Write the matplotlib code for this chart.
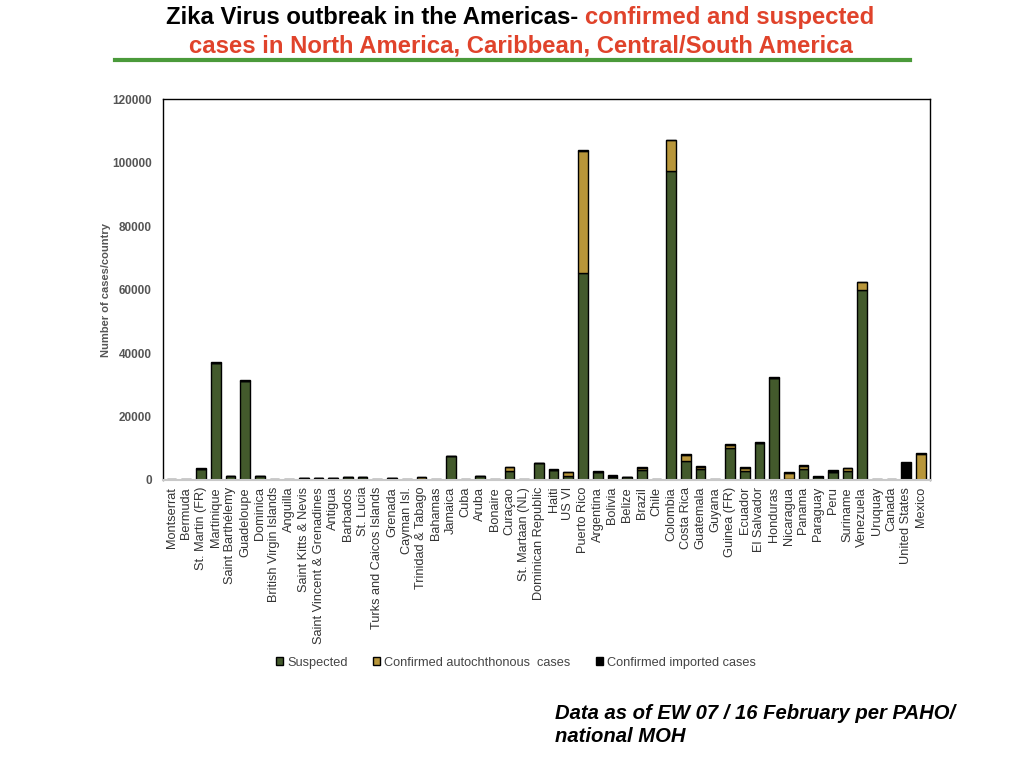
import numpy as np
import matplotlib.pyplot as plt

plt.rcParams['font.family'] = ['Liberation Sans', 'DejaVu Sans']

# ---------------------------
# Data
# ---------------------------
countries = [
    "Montserrat", "Bermuda", "St. Martin (FR)", "Martinique", "Saint Barthélemy",
    "Guadeloupe", "Dominica", "British Virgin Islands", "Anguilla",
    "Saint Kitts & Nevis", "Saint Vincent & Grenadines", "Antigua", "Barbados",
    "St. Lucia", "Turks and Caicos Islands", "Grenada", "Cayman Isl.",
    "Trinidad & Tabago", "Bahamas", "Jamaica", "Cuba", "Aruba", "Bonaire",
    "Curaçao", "St. Martaan (NL)", "Dominican Republic", "Haiti", "US VI",
    "Puerto Rico", "Argentina", "Bolivia", "Belize", "Brazil", "Chile",
    "Colombia", "Costa Rica", "Guatemala", "Guyana", "Guinea (FR)", "Ecuador",
    "El Salvador", "Honduras", "Nicaragua", "Panama", "Paraguay", "Peru",
    "Suriname", "Venezuela", "Uruquay", "Canada", "United States", "Mexico",
]

suspected = [
    100, 100, 3600, 37000, 1300,
    31300, 1300, 100, 100,
    600, 600, 600, 900,
    900, 100, 600, 100,
    300, 100, 7600, 100, 1300, 100,
    2700, 100, 5200, 3300, 1300,
    65200, 2600, 1100, 1000, 3300, 0,
    97300, 6000, 3400, 100, 10200, 2900,
    11700, 32200, 200, 3600, 1000, 2500,
    2800, 59800, 100, 100, 0, 0,
]

confirmed_auto = [
    0, 0, 0, 0, 0,
    0, 0, 0, 0,
    0, 0, 0, 0,
    0, 0, 0, 0,
    700, 0, 0, 0, 0, 0,
    1300, 0, 0, 0, 1100,
    38400, 0, 0, 0, 600, 0,
    9800, 1900, 800, 0, 800, 900,
    0, 0, 2100, 900, 0, 0,
    900, 2600, 0, 0, 0, 8200,
]

confirmed_imported = [
    100, 100, 100, 100, 100,
    100, 100, 100, 100,
    100, 100, 100, 100,
    100, 100, 100, 100,
    100, 100, 100, 100, 100, 100,
    100, 100, 100, 100, 100,
    300, 100, 400, 100, 100, 200,
    100, 200, 100, 100, 200, 200,
    200, 100, 200, 200, 200, 800,
    100, 100, 100, 100, 5700, 300,
]

series_names = ["Suspected", "Confirmed autochthonous  cases", "Confirmed imported cases"]
series_colors = ["#435a2c", "#b8963a", "#000000"]

yticks = [0, 20000, 40000, 60000, 80000, 100000, 120000]

# ---------------------------
# Figure
# ---------------------------
fig = plt.figure(figsize=(10.24, 7.68), dpi=100)
ax = fig.add_axes([0.159, 0.375, 0.749, 0.496])

x = np.arange(len(countries))
s = np.array(suspected)
c = np.array(confirmed_auto)
m = np.array(confirmed_imported)

bar_kw = dict(width=0.66, edgecolor="black", linewidth=1.0)
ax.bar(x, s, color=series_colors[0], label=series_names[0], **bar_kw)
ax.bar(x, c, bottom=s, color=series_colors[1], label=series_names[1], **bar_kw)
ax.bar(x, m, bottom=s + c, color=series_colors[2], label=series_names[2], **bar_kw)

ax.set_xlim(-0.6, len(countries) - 0.4)
ax.set_ylim(0, 120000)
ax.set_yticks(yticks)
ax.set_yticklabels([str(v) for v in yticks], fontsize=8.5, fontweight="bold", color="#555555")
ax.set_xticks(x)
ax.set_xticklabels(countries, rotation=90, fontsize=9.2, color="#333333")
ax.tick_params(axis="y", length=0, pad=8)
ax.tick_params(axis="x", length=0, pad=5)

for side in ["top", "right", "left"]:
    ax.spines[side].set_color("black")
    ax.spines[side].set_linewidth(1.0)
ax.spines["bottom"].set_color("#c8c8c8")
ax.spines["bottom"].set_linewidth(1.5)

ax.set_ylabel("Number of cases/country", fontsize=8, fontweight="bold", color="#555555", labelpad=1)

# legend
fig.legend(loc="center", bbox_to_anchor=(0.504, 0.137), ncol=3, frameon=False,
           fontsize=9.2, handlelength=0.55, handleheight=0.55, handletextpad=0.3,
           columnspacing=2.0, labelcolor="#444444")

# title (two colours on the first line)
fig.text(0.5645, 0.969, "Zika Virus outbreak in the Americas-", ha="right", va="baseline",
         fontsize=17.2, fontweight="bold", color="black")
fig.text(0.5713, 0.969, "confirmed and suspected", ha="left", va="baseline",
         fontsize=17.2, fontweight="bold", color="#e0432b")
fig.text(0.509, 0.932, "cases in North America, Caribbean, Central/South America", ha="center",
         va="baseline", fontsize=17.2, fontweight="bold", color="#e0432b")
fig.add_artist(plt.Line2D([0.112, 0.889], [0.9225, 0.9225], color="#4a9a3a", linewidth=3.0))

# source note
fig.text(0.542, 0.056, "Data as of EW 07 / 16 February per PAHO/\nnational MOH", ha="left",
         va="center", fontsize=14.6, fontweight="bold", fontstyle="italic", color="black",
         linespacing=1.28)

fig.savefig("out.png", dpi=100)
